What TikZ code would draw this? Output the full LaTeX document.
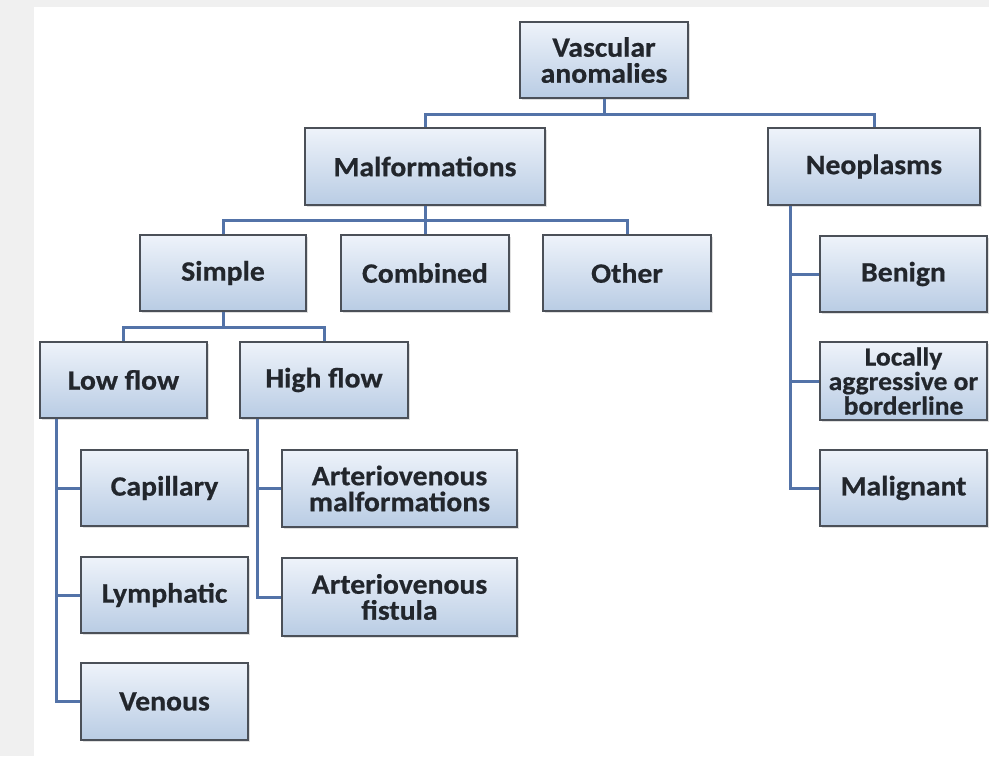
\documentclass[tikz,border=0pt]{standalone}
\usepackage{fontspec}
\setmainfont{Carlito}[BoldFeatures={FakeStretch=1.06,FakeBold=0.6}]
\usetikzlibrary{shadows}
\definecolor{bgray}{HTML}{F0F0F0}
\definecolor{boxtop}{HTML}{EEF3FA}
\definecolor{boxbot}{HTML}{B9CCE4}
\definecolor{boxline}{HTML}{4B5058}
\definecolor{connc}{HTML}{5373A8}
\definecolor{txtc}{HTML}{22262C}
\tikzset{
  cbox/.style={draw=boxline, line width=2pt, top color=boxtop, bottom color=boxbot,
    minimum height=#1, inner sep=2pt, align=center, text=txtc,
    font=\fontsize{28}{26}\selectfont\bfseries,
    drop shadow={opacity=0.25, shadow xshift=2pt, shadow yshift=-2pt}},
  cbox/.default=76pt,
  conn/.style={draw=connc, line width=3pt}
}
\begin{document}
\begin{tikzpicture}[x=1pt,y=-1pt]
\fill[bgray] (0,0) rectangle (989,756);
\fill[white] (34,7) rectangle (989,756);
\useasboundingbox (0,0) rectangle (989,756);
% nodes
\node[cbox, minimum width=168pt] (va) at (604,60) {Vascular\\anomalies};
\node[cbox=77pt, minimum width=240pt] (mal) at (425,166.5) {Malformations};
\node[cbox=77pt, minimum width=212pt] (neo) at (874,166.5) {Neoplasms};
\node[cbox, minimum width=166pt] (sim) at (223,273) {Simple};
\node[cbox, minimum width=168pt] (com) at (425,273) {Combined};
\node[cbox, minimum width=168pt] (oth) at (627,273) {Other};
\node[cbox, minimum width=167pt] (low) at (123.5,380) {Low flow};
\node[cbox, minimum width=168pt] (high) at (324,380) {High flow};
\node[cbox, minimum width=167pt] (cap) at (164.5,488) {Capillary};
\node[cbox, minimum width=167pt] (lym) at (164.5,595) {Lymphatic};
\node[cbox=77pt, minimum width=167pt] (ven) at (164.5,701.5) {Venous};
\node[cbox=77pt, minimum width=235pt] (avm) at (399.5,488.5) {Arteriovenous\\malformations};
\node[cbox=78pt, minimum width=235pt] (avf) at (399.5,597) {Arteriovenous\\fistula};
\node[cbox, minimum width=167pt] (ben) at (903.5,274) {Benign};
\node[cbox=78pt, minimum width=167pt, inner sep=0pt, font=\fontsize{26}{24.5}\selectfont\bfseries] (loc) at (903.5,381) {Locally\\aggressive or\\borderline};
\node[cbox, minimum width=167pt] (mgn) at (903.5,488) {Malignant};
% bus coordinates
\coordinate (b1) at (604,114);
\coordinate (b2) at (425,220);
\coordinate (b3) at (223,327);
\coordinate (xl) at (56,0);
\coordinate (xh) at (257,0);
\coordinate (xn) at (790,0);
% connectors
\draw[conn] (va.south) -- (b1);
\draw[conn] (mal.north) |- (b1) -| (neo.north);
\draw[conn] (mal.south) -- (b2);
\draw[conn] (sim.north) |- (b2) -| (oth.north);
\draw[conn] (b2) -- (com.north);
\draw[conn] (sim.south) -- (b3);
\draw[conn] (low.north) |- (b3) -| (high.north);
\draw[conn] (low.south -| xl) |- (ven.west);
\draw[conn] (cap.west -| xl) -- (cap.west);
\draw[conn] (lym.west -| xl) -- (lym.west);
\draw[conn] (high.south -| xh) |- (avf.west);
\draw[conn] (avm.west -| xh) -- (avm.west);
\draw[conn] (neo.south -| xn) |- (mgn.west);
\draw[conn] (ben.west -| xn) -- (ben.west);
\draw[conn] (loc.west -| xn) -- (loc.west);
\end{tikzpicture}
\end{document}
